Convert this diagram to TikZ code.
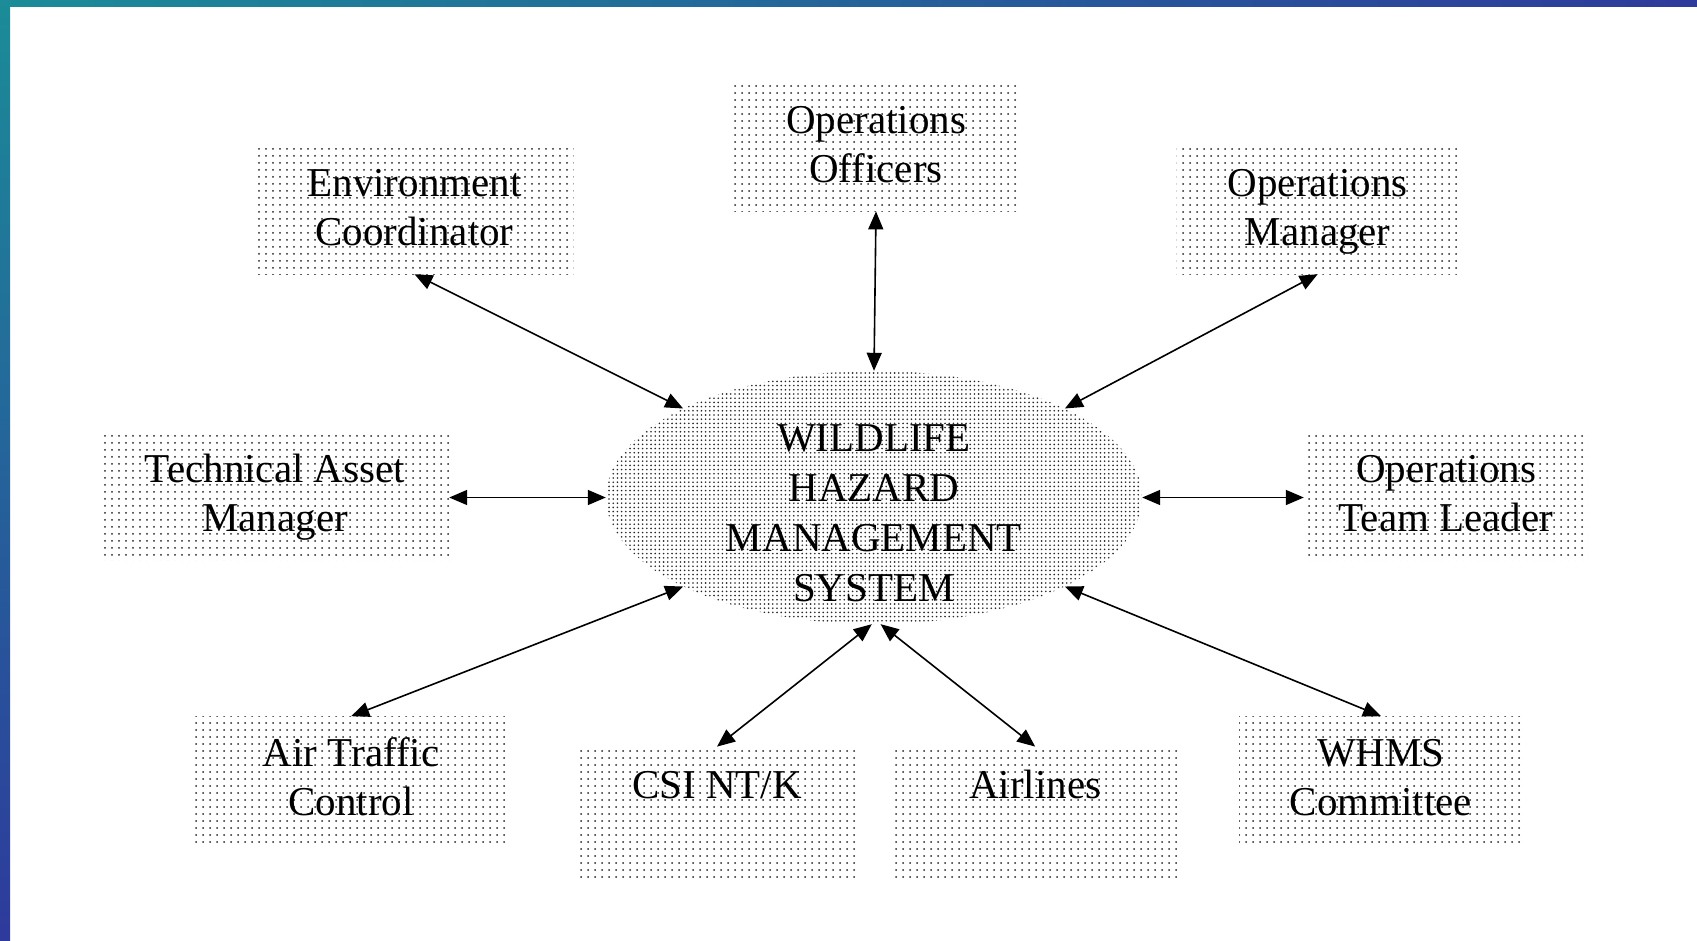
\documentclass[tikz,border=0pt]{standalone}
\usepackage{fontspec}
\setmainfont{Liberation Serif}
\usetikzlibrary{arrows.meta,patterns.meta,shapes.geometric}
\definecolor{tealA}{HTML}{1B8C98}
\definecolor{blueA}{HTML}{2E3A9C}
\definecolor{dotgray}{HTML}{262626}
\begin{document}
\begin{tikzpicture}[x=1pt,y=-1pt,
  boxtext/.style={font=\fontsize{41}{49}\selectfont, align=center},
  box/.style={rectangle, inner sep=0pt, boxtext,
    pattern={Dots[radius=1pt, distance=7pt]}, pattern color=dotgray},
  hub/.style={ellipse, inner sep=0pt, minimum width=536pt, minimum height=253pt,
    pattern={Dots[radius=0.9pt, distance=4.2pt]}, pattern color=dotgray},
  hubtext/.style={font=\fontsize{41}{50}\selectfont, align=center, inner sep=0pt},
  conn/.style={{Triangle[length=18pt,width=15pt]}-{Triangle[length=18pt,width=15pt]}, line width=1.6pt, black}
]
\useasboundingbox (0,0) rectangle (1697,940);
\fill[white] (0,0) rectangle (1697,940);
\shade[left color=tealA, right color=blueA] (0,0) rectangle (1697,6);
\shade[top color=tealA, bottom color=blueA] (0,0) rectangle (10,940);

% boxes
\node[box, minimum width=318pt, minimum height=126pt] (env) at (414.5,211) {\strut Environment\\\strut Coordinator};
\node[box, minimum width=285pt, minimum height=127pt] (oo) at (876,147.7) {\strut Operations\\\strut Officers};
\node[box, minimum width=282pt, minimum height=126pt] (om) at (1317.7,211) {\strut Operations\\\strut Manager};
\node[box, minimum width=348pt, minimum height=126pt] (tam) at (275,497.5) {\strut Technical Asset\\\strut Manager};
\node[box, minimum width=284pt, minimum height=126pt] (otl) at (1446,497.5) {\strut Operations\\\strut Team Leader};
\node[box, minimum width=315pt, minimum height=130pt] (atc) at (351.2,781.4) {\strut Air Traffic\\\strut Control};
\node[box, minimum width=283pt, minimum height=132pt] (csi) at (717,812.8) {\strut CSI NT/K\\\strut};
\node[box, minimum width=285pt, minimum height=132pt] (air) at (1035.2,812.8) {\strut Airlines\\\strut};
\node[box, minimum width=284pt, minimum height=130pt] (whms) at (1381,781.4) {\strut WHMS\\\strut Committee};

% hub
\node[hub] (el) at (874,497.5) {};
\node[hubtext] (eltext) at (874,513) {WILDLIFE\\HAZARD\\MANAGEMENT\\SYSTEM};

% connectors
\draw[conn] (env.south) -- (el.155);
\draw[conn] (oo.south) -- (el.north);
\draw[conn] (om.south) -- (el.25);
\draw[conn] (tam.east) -- (el.west);
\draw[conn] (el.east) -- (otl.west);
\draw[conn] (atc.north) -- (el.205);
\draw[conn] (csi.north) -- (el.269);
\draw[conn] (air.north) -- (el.273);
\draw[conn] (whms.north) -- (el.335);
\end{tikzpicture}
\end{document}
